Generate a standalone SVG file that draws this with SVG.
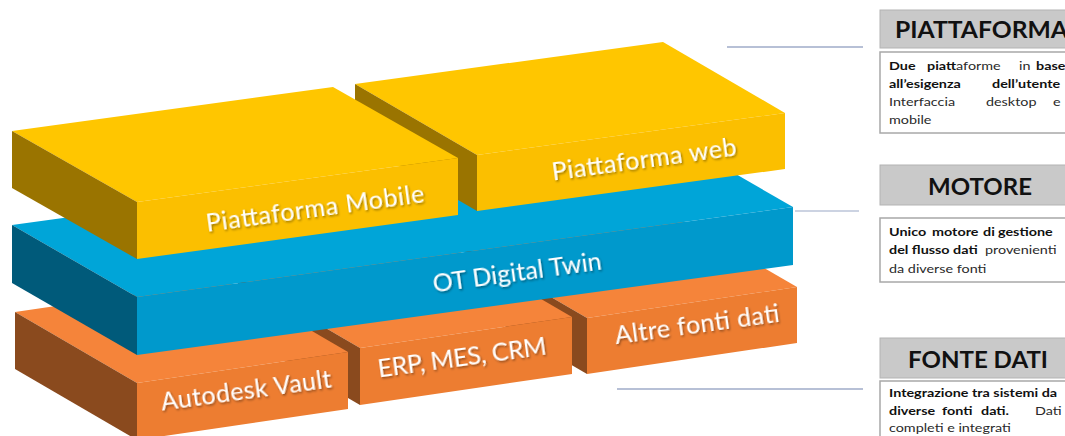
<svg xmlns="http://www.w3.org/2000/svg" width="1065" height="436" viewBox="0 0 1065 436">
<defs>
<style>
.yt{fill:#FFC600}.yf{fill:#FBBF00}.ys{fill:#9A7400}
.bt{fill:#00A5D8}.bf{fill:#0099CC}.bs{fill:#005A7A}
.ot{fill:#F5843A}.of{fill:#ED7D31}.os{fill:#8A4A1E}
.lbl{font-family:Lato,"Open Sans",sans-serif;font-size:25px;fill:#FFFFFF;text-anchor:middle;filter:url(#sh)}
.hdr{fill:#C9C9C9;stroke:#B3B3B3;stroke-width:1}
.bodybox{fill:#FFFFFF;stroke:#A8A8A8;stroke-width:1.5}
.ht{font-family:Lato,"Open Sans",sans-serif;font-size:22px;font-weight:bold;fill:#111111}
.t{font-family:Lato,"Open Sans",sans-serif;font-size:11.5px;fill:#2A2A2A}
.b{font-weight:bold;fill:#111111}
.conn{stroke:#B7C0D6;stroke-width:2;fill:none}
</style>
<filter id="sh" x="-10%" y="-40%" width="120%" height="180%">
<feDropShadow dx="1" dy="1.5" stdDeviation="0.8" flood-color="#000000" flood-opacity="0.45"/>
</filter>
</defs>
<rect width="1065" height="436" fill="#FFFFFF"/>

<g id="connectors">
<line class="conn" x1="727" y1="47" x2="863" y2="47"/>
<line class="conn" x1="795" y1="211" x2="859" y2="211" stroke-opacity="0.7"/>
<line class="conn" x1="617" y1="389" x2="863" y2="389"/>
</g>

<g id="altre-fonti">
<polygon class="ot" points="465,247 675,216 797,287 587,318"/>
<polygon class="of" points="587,318 797,287 797,343 587,374"/>
<polygon class="os" points="465,247 587,318 587,374 465,303"/>
<text class="lbl" x="697" y="324" dy="0.35em" textLength="166" transform="rotate(-7.8 697 324)">Altre fonti dati</text>
</g>

<g id="erp-mes-crm">
<polygon class="ot" points="238,277 450,246 572,317 360,348"/>
<polygon class="of" points="360,348 572,317 572,374 360,405"/>
<polygon class="os" points="238,277 360,348 360,405 238,334"/>
<text class="lbl" x="462" y="357" dy="0.35em" textLength="170" transform="rotate(-7.8 462 357)">ERP, MES, CRM</text>
</g>

<g id="autodesk-vault">
<polygon class="ot" points="15,312 226,281 348,352 137,383"/>
<polygon class="of" points="137,383 348,352 348,409 137,440"/>
<polygon class="os" points="15,312 137,383 137,440 15,369"/>
<text class="lbl" x="246" y="390" dy="0.35em" textLength="172" transform="rotate(-7.8 246 390)">Autodesk Vault</text>
</g>

<g id="ot-digital-twin">
<polygon class="bt" points="12,225 668,135 793,207 137,297"/>
<polygon class="bf" points="137,297 793,207 793,265 137,355"/>
<polygon class="bs" points="12,225 137,297 137,355 12,283"/>
<text class="lbl" x="517" y="272" dy="0.35em" textLength="170" transform="rotate(-7.8 517 272)">OT Digital Twin</text>
</g>

<g id="piattaforma-web">
<polygon class="yt" points="355,84 663,42 785,113 477,155"/>
<polygon class="yf" points="477,155 785,113 785,169 477,211"/>
<polygon class="ys" points="355,84 477,155 477,211 355,140"/>
<text class="lbl" x="644" y="159" dy="0.35em" textLength="186" transform="rotate(-7.8 644 159)">Piattaforma web</text>
</g>

<g id="piattaforma-mobile">
<polygon class="yt" points="12,131 333,87 458,158 137,202"/>
<polygon class="yf" points="137,202 458,158 458,215 137,259"/>
<polygon class="ys" points="12,131 137,202 137,259 12,188"/>
<text class="lbl" x="315" y="208" dy="0.35em" textLength="220" transform="rotate(-7.8 315 208)">Piattaforma Mobile</text>
</g>

<g id="box-piattaforma">
<rect class="hdr" x="880" y="10" width="200" height="38"/>
<text class="ht" x="895" y="38" textLength="173" lengthAdjust="spacingAndGlyphs">PIATTAFORMA</text>
<rect class="bodybox" x="880" y="52" width="200" height="81"/>
<g transform="scale(1.25 1)">
<text class="t b" x="711.2" y="70">Due</text>
<text class="t" x="741.6" y="70"><tspan class="b">piatt</tspan>aforme</text>
<text class="t" x="815.2" y="70">in</text>
<text class="t b" x="828.8" y="70">base</text>
<text class="t b" x="711.2" y="88">all’esigenza</text>
<text class="t b" x="793.6" y="88">dell’utente</text>
<text class="t" x="711.2" y="106">Interfaccia</text>
<text class="t" x="788.8" y="106">desktop</text>
<text class="t" x="842.4" y="106">e</text>
<text class="t" x="711.2" y="124">mobile</text>
</g>
</g>

<g id="box-motore">
<rect class="hdr" x="880" y="165" width="200" height="40"/>
<text class="ht" x="928" y="195" textLength="104" lengthAdjust="spacingAndGlyphs">MOTORE</text>
<rect class="bodybox" x="880" y="218" width="200" height="64"/>
<g transform="scale(1.25 1)">
<text class="t b" x="711.2" y="236">Unico</text>
<text class="t b" x="745.6" y="236">motore</text>
<text class="t b" x="786.4" y="236">di</text>
<text class="t b" x="798.4" y="236">gestione</text>
<text class="t b" x="711.2" y="254">del flusso dati</text>
<text class="t" x="788" y="254">provenienti</text>
<text class="t" x="711.2" y="273">da diverse fonti</text>
</g>
</g>

<g id="box-fonte-dati">
<rect class="hdr" x="880" y="338" width="200" height="40"/>
<text class="ht" x="908" y="368" textLength="140" lengthAdjust="spacingAndGlyphs">FONTE DATI</text>
<rect class="bodybox" x="880" y="381" width="200" height="62"/>
<g transform="scale(1.25 1)">
<text class="t b" x="711.2" y="397">Integrazione tra sistemi da</text>
<text class="t b" x="711.2" y="415">diverse</text>
<text class="t b" x="753.6" y="415">fonti</text>
<text class="t b" x="784.8" y="415">dati.</text>
<text class="t" x="828" y="415">Dati</text>
<text class="t" x="711.2" y="432">completi e integrati</text>
</g>
</g>
</svg>
